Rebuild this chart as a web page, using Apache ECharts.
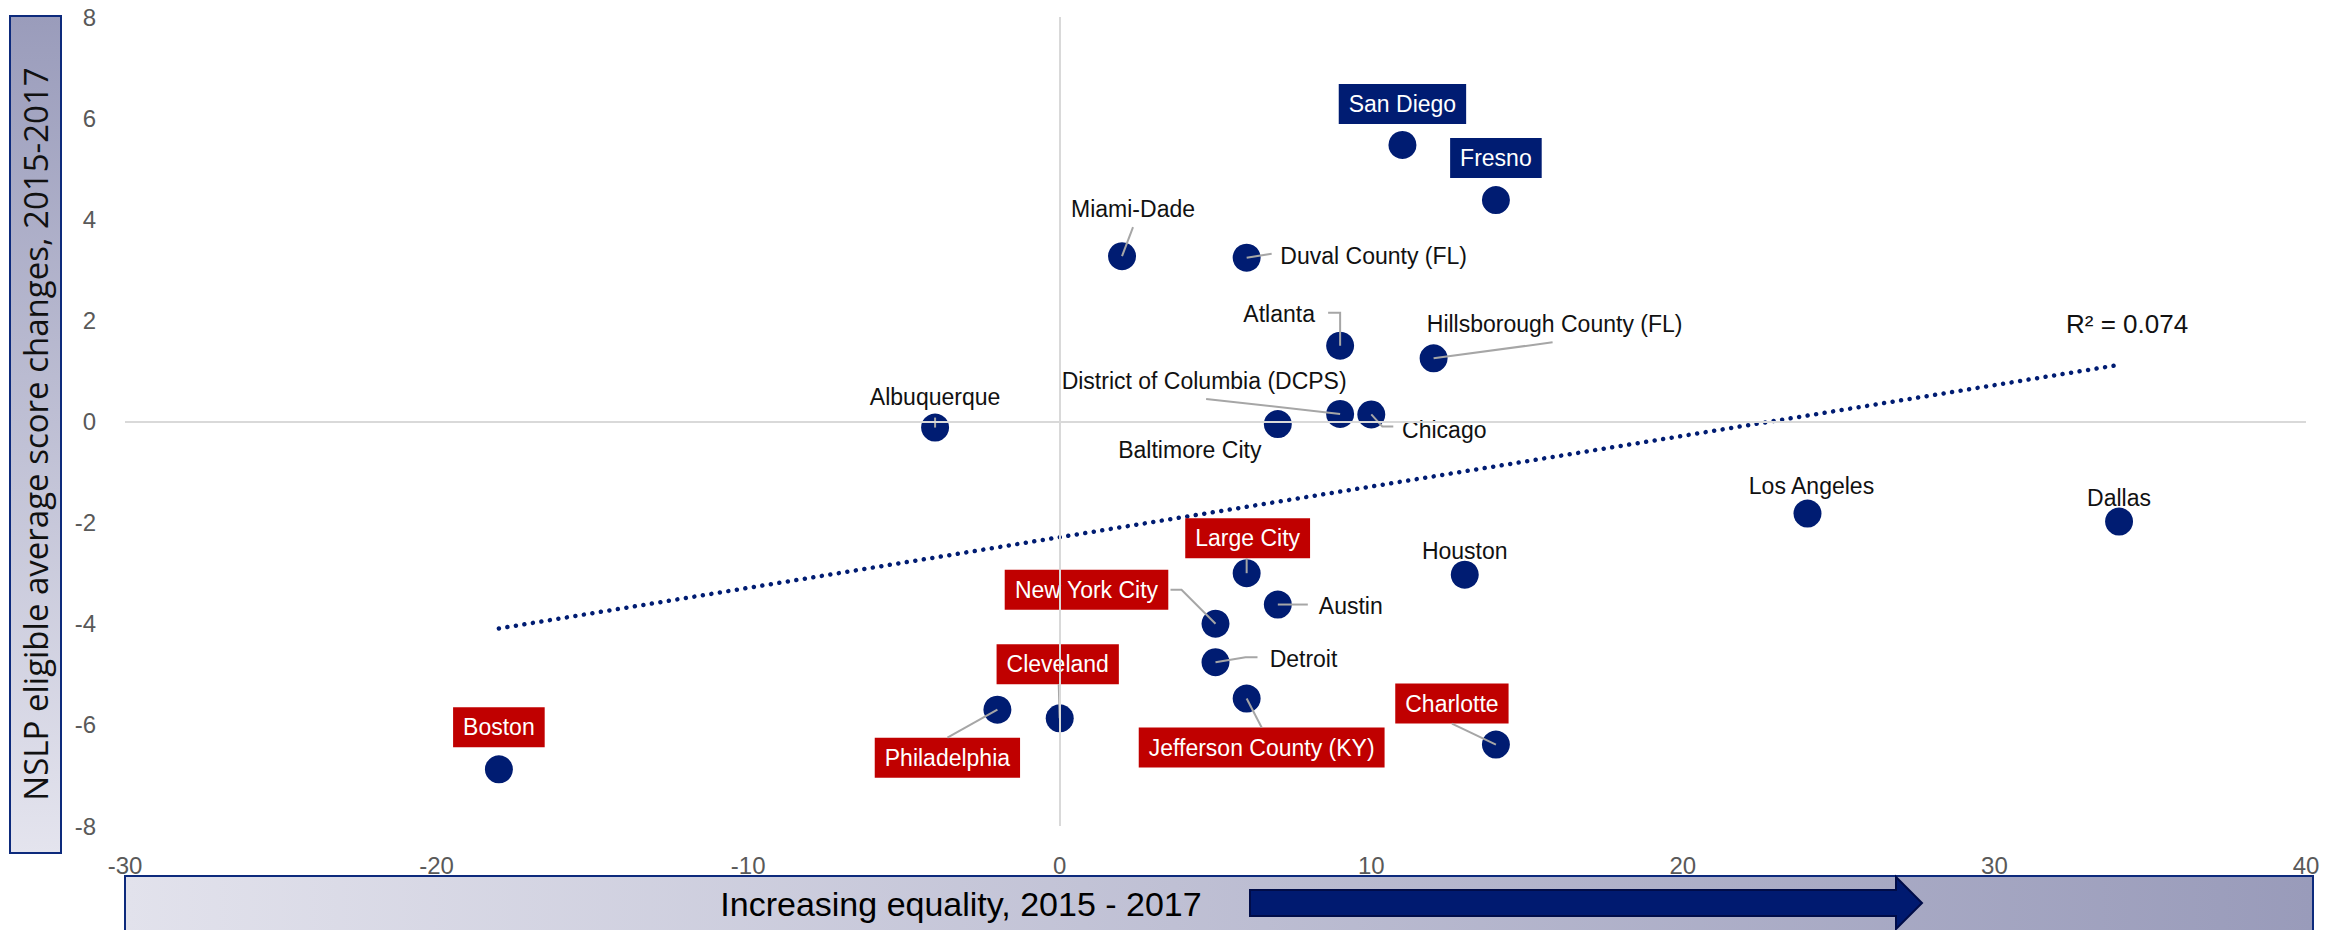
<!DOCTYPE html>
<html>
<head>
<meta charset="utf-8">
<title>NSLP equality scatter</title>
<script src="https://cdn.jsdelivr.net/npm/echarts@6/dist/echarts.min.js"></script>
<style>
  html, body { margin: 0; padding: 0; background: #fff; }
  #chart { width: 2346px; height: 930px; }
</style>
</head>
<body>
<div id="chart"></div>
<script>
  const names = [
    'San Diego', 'Fresno', 'Miami-Dade', 'Duval County (FL)', 'Atlanta',
    'Hillsborough County (FL)', 'Albuquerque', 'District of Columbia (DCPS)', 'Chicago', 'Baltimore City',
    'Los Angeles', 'Dallas', 'Large City', 'Houston', 'Austin',
    'New York City', 'Detroit', 'Jefferson County (KY)', 'Philadelphia', 'Cleveland',
    'Charlotte', 'Boston'
  ]
  // increasing equality, 2015 - 2017
  const equality = [11, 14, 2, 6, 9, 12, -4, 9, 10, 7, 24, 34, 6, 13, 7, 5, 5, 6, -2, 0, 14, -18]
  // NSLP eligible average score changes, 2015-2017
  const scoreChange = [5.47, 4.38, 3.27, 3.24, 1.5, 1.25, -0.12, 0.15, 0.14, -0.05,
    -1.82, -1.98, -3.0, -3.03, -3.62, -4.0, -4.76, -5.48, -5.7, -5.87, -6.39, -6.88]
  const xTicks = [-30, 40, 10]
  const yTicks = [-8, 8, 2]
  const rSquaredText = 'R² = 0.074'

  // label look
  const redLabels = ['Large City', 'New York City', 'Cleveland', 'Philadelphia', 'Jefferson County (KY)', 'Charlotte', 'Boston']
  const navyLabels = ['San Diego', 'Fresno']
  // label centre offset from the dot, px
  const labelOffset = {
    'San Diego': [0, -41], 'Fresno': [0, -42], 'Miami-Dade': [11, -47], 'Duval County (FL)': [127, -2],
    'Atlanta': [-61, -32], 'Hillsborough County (FL)': [121, -34], 'Albuquerque': [0, -31],
    'District of Columbia (DCPS)': [-136, -33], 'Chicago': [73, 16], 'Baltimore City': [-88, 26],
    'Los Angeles': [4, -28], 'Dallas': [0, -24], 'Large City': [1, -35], 'Houston': [0, -24],
    'Austin': [73, 1], 'New York City': [-129, -34], 'Detroit': [88, -3], 'Jefferson County (KY)': [15, 49],
    'Philadelphia': [-50, 48], 'Cleveland': [-2, -54], 'Charlotte': [-44, -41], 'Boston': [0, -42]
  }
  // leader lines, px from the dot
  const leaders = {
    'Miami-Dade': [[0, 0], [11, -29]],
    'Duval County (FL)': [[0, 0], [25, -4]],
    'Atlanta': [[0, 0], [0, -33], [-12, -33]],
    'Hillsborough County (FL)': [[0, 0], [119, -16]],
    'Albuquerque': [[0, 0], [0, -10]],
    'District of Columbia (DCPS)': [[0, 0], [-134, -15]],
    'Chicago': [[0, 0], [11, 12], [22, 12]],
    'Large City': [[0, 0], [0, -15]],
    'New York City': [[0, 0], [-34, -34], [-45, -34]],
    'Austin': [[0, 0], [30, 0]],
    'Detroit': [[0, 0], [30, -5], [42, -5]],
    'Jefferson County (KY)': [[0, 0], [15, 29]],
    'Philadelphia': [[0, 0], [-50, 28]],
    'Cleveland': [[0, 0], [-1, -34]],
    'Charlotte': [[0, 0], [-44, -21]]
  }

  const NAVY = '#001c72'
  const RED = '#c00000'
  const FONT = '"Liberation Sans", Arial, sans-serif'

  // least squares trend over all districts
  const n = equality.length
  const mx = equality.reduce((a, b) => a + b, 0) / n
  const my = scoreChange.reduce((a, b) => a + b, 0) / n
  let sxy = 0
  let sxx = 0
  for (let i = 0; i < n; i++) {
    sxy += (equality[i] - mx) * (scoreChange[i] - my)
    sxx += (equality[i] - mx) * (equality[i] - mx)
  }
  const slope = sxy / sxx
  const icpt = my - slope * mx
  const xMin = Math.min(...equality)
  const xMax = Math.max(...equality)
  const trendData = [[xMin, icpt + slope * xMin], [xMax, icpt + slope * xMax]]

  function labelFor (name) {
    let label = {
      show: true,
      position: 'inside',
      offset: labelOffset[name] || [0, -30],
      formatter: name,
      fontFamily: FONT,
      fontSize: 23,
      lineHeight: 24,
      color: '#111'
    }
    if (redLabels.indexOf(name) >= 0 || navyLabels.indexOf(name) >= 0) {
      label.color = '#fff'
      label.backgroundColor = redLabels.indexOf(name) >= 0 ? RED : NAVY
      label.padding = [8, 10]
    }
    return label
  }

  let scatterData = []
  for (let i = 0; i < n; i++) {
    scatterData.push({name: names[i], value: [equality[i], scoreChange[i]], label: labelFor(names[i])})
  }
  let leaderData = []
  for (let i = 0; i < n; i++) {
    leaderData.push([equality[i], scoreChange[i], i])
  }

  let option = {
    animation: false,
    grid: {left: 125, right: 40, top: 17, bottom: 104},
    xAxis: {
      type: 'value',
      min: xTicks[0],
      max: xTicks[1],
      interval: xTicks[2],
      axisLine: {show: false},
      axisTick: {show: false},
      splitLine: {show: false},
      axisLabel: {color: '#595959', fontFamily: FONT, fontSize: 24, margin: 27}
    },
    yAxis: {
      type: 'value',
      min: yTicks[0],
      max: yTicks[1],
      interval: yTicks[2],
      axisLine: {show: false},
      axisTick: {show: false},
      splitLine: {show: false},
      axisLabel: {color: '#595959', fontFamily: FONT, fontSize: 24, margin: 29}
    },
    graphic: [
      {
        type: 'rect',
        shape: {x: 10, y: 16, width: 51, height: 837},
        style: {
          fill: new echarts.graphic.LinearGradient(0, 0, 0, 1, [
            {offset: 0, color: '#9a9cbb'},
            {offset: 1, color: '#e4e4ee'}
          ]),
          stroke: '#0d2a7c',
          lineWidth: 2
        },
        z: 0
      },
      {
        type: 'text',
        x: 35,
        y: 434,
        rotation: Math.PI / 2,
        style: {
          text: 'NSLP eligible average score changes, 2015-2017',
          font: '33px "Open Sans", sans-serif',
          fill: '#111',
          align: 'center',
          verticalAlign: 'middle'
        },
        z: 1
      },
      {
        type: 'rect',
        shape: {x: 125, y: 876, width: 2188, height: 70},
        style: {
          fill: new echarts.graphic.LinearGradient(0, 0, 1, 0, [
            {offset: 0, color: '#e2e2ec'},
            {offset: 1, color: '#999bba'}
          ]),
          stroke: '#0d2a7c',
          lineWidth: 2
        },
        z: 0
      },
      {
        type: 'text',
        x: 961,
        y: 904,
        style: {
          text: 'Increasing equality, 2015 - 2017',
          font: '34px "Liberation Sans", Arial, sans-serif',
          fill: '#000',
          align: 'center',
          verticalAlign: 'middle'
        },
        z: 1
      },
      {
        type: 'polygon',
        shape: {points: [[1250, 890], [1896, 890], [1896, 877], [1922, 903], [1896, 929], [1896, 916], [1250, 916]]},
        style: {fill: '#001a70', stroke: '#000c48', lineWidth: 2},
        z: 1
      }
    ],
    series: [
      {
        name: 'trend',
        type: 'line',
        data: trendData,
        showSymbol: false,
        silent: true,
        z: 1,
        lineStyle: {color: NAVY, width: 4.5, type: [0.01, 8.6], cap: 'round'},
        markLine: {
          silent: true,
          symbol: ['none', 'none'],
          label: {show: false},
          lineStyle: {color: '#d9d9d9', width: 2, type: 'solid'},
          data: [{xAxis: 0}, {yAxis: 0}]
        },
        markPoint: {
          silent: true,
          symbol: 'circle',
          symbolSize: 1,
          itemStyle: {color: 'rgba(0,0,0,0)'},
          label: {
            show: true,
            position: 'inside',
            offset: [8, -41],
            formatter: rSquaredText,
            fontFamily: FONT,
            fontSize: 26,
            color: '#111'
          },
          data: [{coord: trendData[1]}]
        }
      },
      {
        name: 'districts',
        type: 'scatter',
        data: scatterData,
        symbolSize: 28,
        z: 2,
        itemStyle: {color: NAVY, opacity: 1}
      },
      {
        name: 'leaders',
        type: 'custom',
        data: leaderData,
        encode: {x: 0, y: 1},
        silent: true,
        z: 3,
        renderItem: function (params, api) {
          let pts = leaders[names[api.value(2)]]
          if (!pts) return null
          let p = api.coord([api.value(0), api.value(1)])
          return {
            type: 'polyline',
            shape: {points: pts.map(function (d) { return [p[0] + d[0], p[1] + d[1]] })},
            style: {stroke: '#a6a6a6', lineWidth: 2, fill: null}
          }
        }
      }
    ]
  }

  let chart = echarts.init(document.getElementById('chart'), null, {renderer: 'svg'})
  chart.setOption(option)
</script>
</body>
</html>
